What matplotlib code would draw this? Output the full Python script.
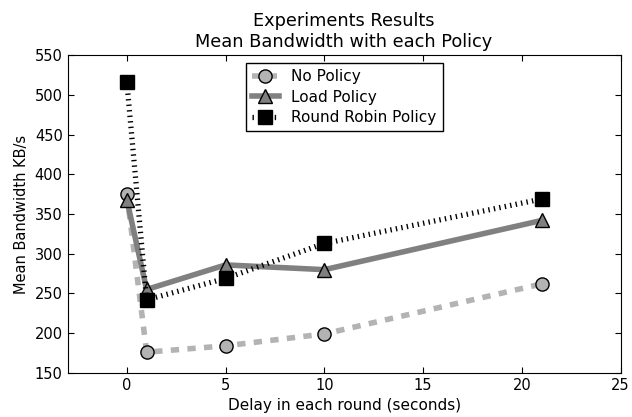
import numpy as np
import matplotlib
matplotlib.use('Agg')
import matplotlib.pyplot as plt

# delays (seconds) and mean bandwidth per policy (KB/s)
delays = [0, 1, 5, 10, 21]
no_policy = [375, 176, 184, 199, 262]
load_policy = [368, 255, 286, 280, 342]
rr_policy = [516, 242, 269, 313, 369]

plt.rcParams['font.family'] = 'DejaVu Sans'
plt.rcParams['xtick.direction'] = 'in'
plt.rcParams['ytick.direction'] = 'in'
plt.rcParams['xtick.top'] = True
plt.rcParams['ytick.right'] = True
plt.rcParams['xtick.major.size'] = 4
plt.rcParams['ytick.major.size'] = 4
# old-style dash patterns, not scaled with line width
plt.rcParams['lines.scale_dashes'] = False
plt.rcParams['lines.dashed_pattern'] = [6, 6]
plt.rcParams['lines.dotted_pattern'] = [1, 3]

fig = plt.figure(figsize=(6.32, 4.17), dpi=100)
ax = fig.add_axes([0.107, 0.106, 0.875, 0.761])

ax.plot(delays, no_policy, '--', color='#b3b3b3', lw=4, marker='o', ms=9.5,
        mfc='#b3b3b3', mec='black', label='No Policy')
ax.plot(delays, load_policy, '-', color='#808080', lw=4, marker='^', ms=9.5,
        mfc='#808080', mec='black', label='Load Policy')
ax.plot(delays, rr_policy, ':', color='black', lw=3.8, marker='s', ms=9.5,
        mfc='black', mec='black', label='Round Robin Policy')

ax.set_xlim(-3, 25)
ax.set_ylim(150, 550)
ax.set_xticks([0, 5, 10, 15, 20, 25])
ax.set_yticks(np.arange(150, 551, 50))
ax.tick_params(labelsize=10.5)
ax.set_xlabel('Delay in each round (seconds)', fontsize=11)
ax.set_ylabel('Mean Bandwidth KB/s', fontsize=10.5)
ax.set_title('Experiments Results\nMean Bandwidth with each Policy', fontsize=12.8)

leg = ax.legend(loc='upper center', numpoints=1, fancybox=False, fontsize=11,
                framealpha=1, borderaxespad=0.5, handlelength=1.8,
                labelspacing=0.35)
leg.get_frame().set_edgecolor('black')

fig.savefig('out.png', dpi=100, facecolor='white')
